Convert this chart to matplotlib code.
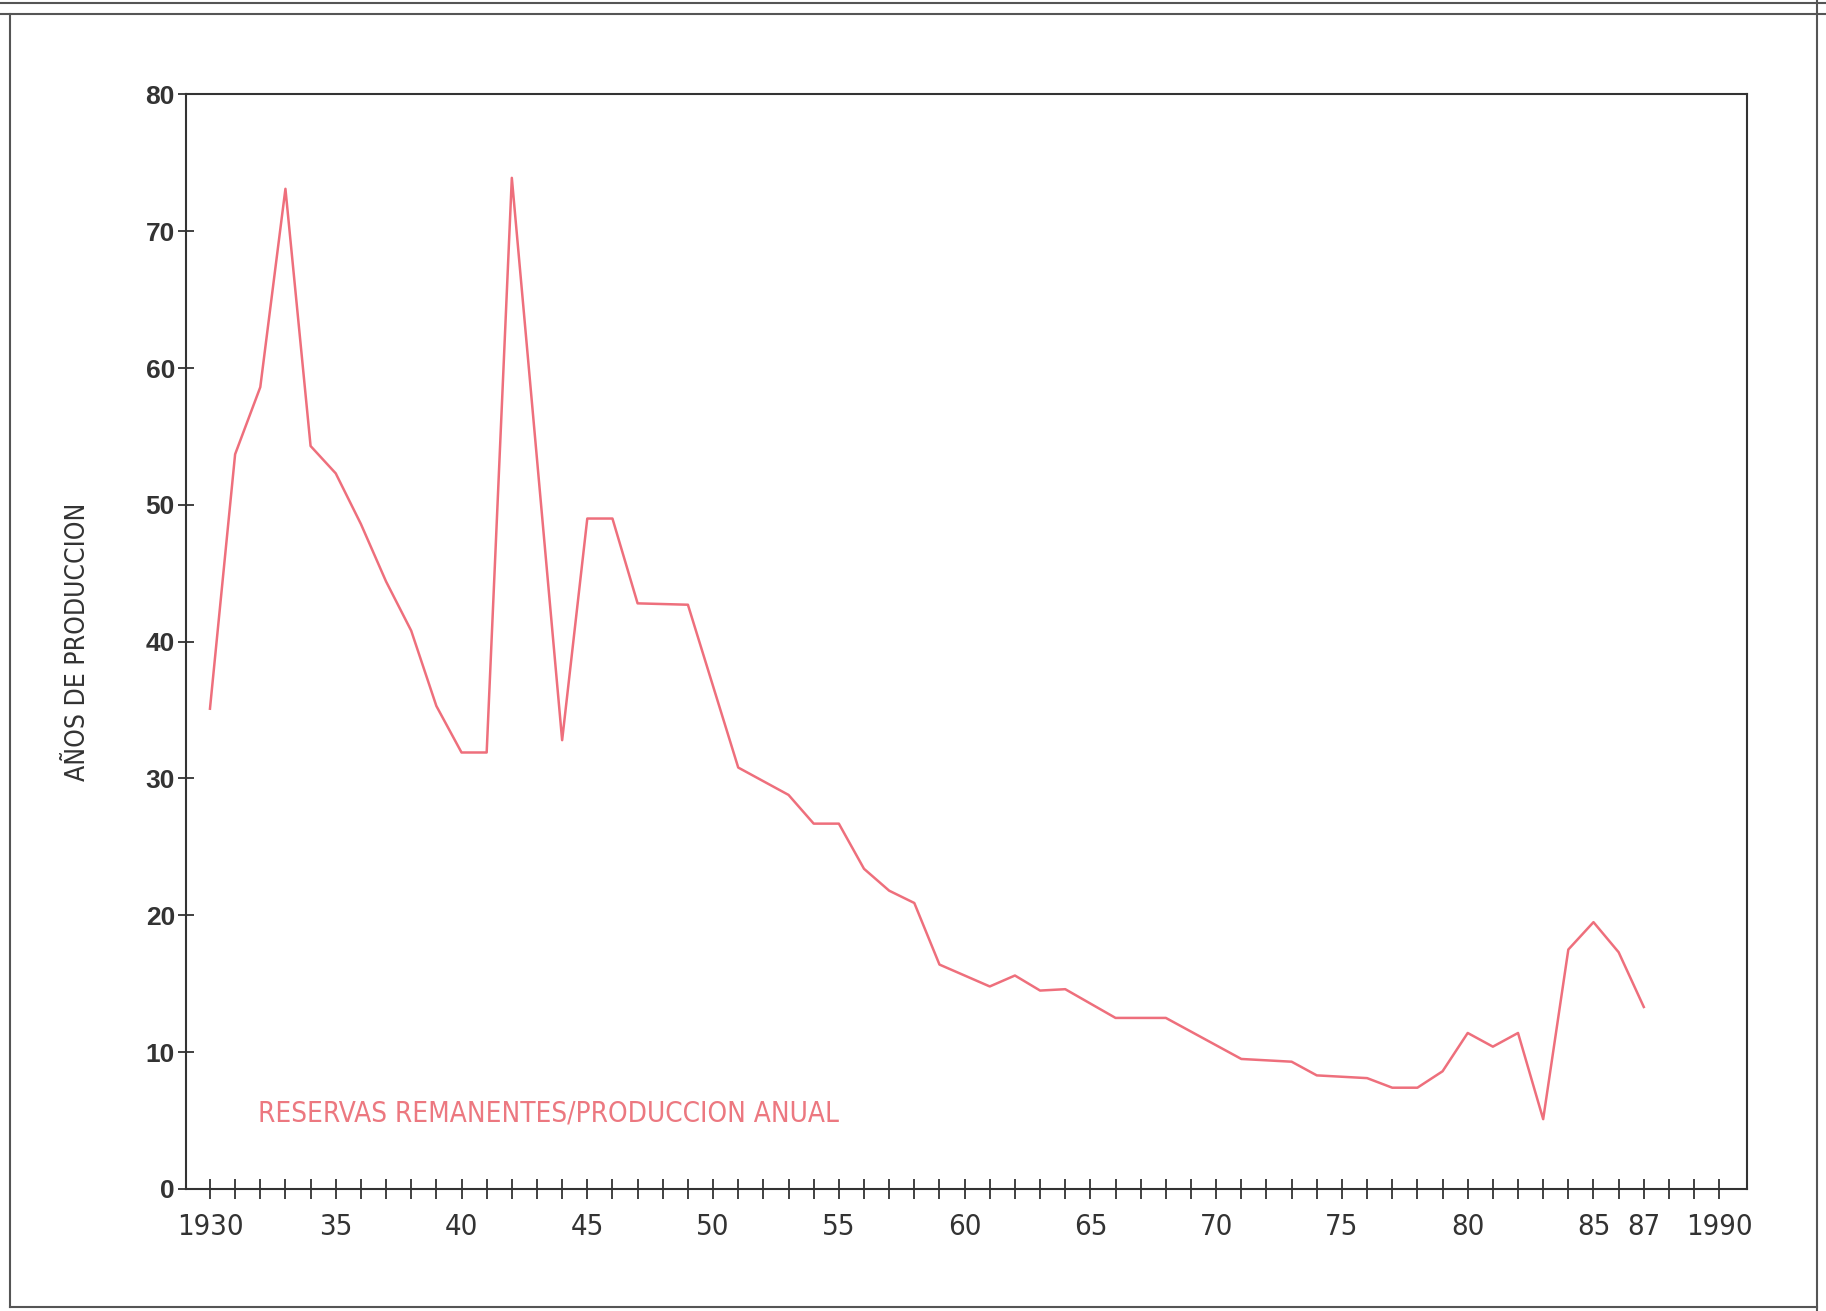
import matplotlib
matplotlib.use("Agg")
import matplotlib.pyplot as plt
from matplotlib.lines import Line2D

# relacion reservas / produccion anual (años)
years = [1930, 1931, 1932, 1933, 1934, 1935, 1936, 1937, 1938, 1939, 1940, 1941,
         1942, 1944, 1945, 1946, 1947, 1949, 1951, 1953, 1954, 1955, 1956, 1957,
         1958, 1959, 1961, 1962, 1963, 1964, 1966, 1968, 1971, 1973, 1974, 1976,
         1977, 1978, 1979, 1980, 1981, 1982, 1983, 1984, 1985, 1986, 1987]
values = [35.1, 53.7, 58.6, 73.1, 54.3, 52.3, 48.6, 44.4, 40.8, 35.3, 31.9, 31.9,
          73.9, 32.8, 49.0, 49.0, 42.8, 42.7, 30.8, 28.8, 26.7, 26.7, 23.4, 21.8,
          20.9, 16.4, 14.8, 15.6, 14.5, 14.6, 12.5, 12.5, 9.5, 9.3, 8.3, 8.1,
          7.4, 7.4, 8.6, 11.4, 10.4, 11.4, 5.1, 17.5, 19.5, 17.3, 13.3]

tick_years = list(range(1930, 1991))
labelled = {1930: "1930", 1935: "35", 1940: "40", 1945: "45", 1950: "50",
            1955: "55", 1960: "60", 1965: "65", 1970: "70", 1975: "75",
            1980: "80", 1985: "85", 1987: "87", 1990: "1990"}
y_ticks = [0, 10, 20, 30, 40, 50, 60, 70, 80]

line_color = "#ee6f7c"
text_color = "#ec7880"
axis_color = "#333333"
cond = dict(family="DejaVu Sans", stretch="condensed")

fig = plt.figure(figsize=(18.26, 13.11), dpi=100)
ax = fig.add_axes([0.1019, 0.0931, 0.8548, 0.8349])

ax.plot(years, values, color=line_color, lw=1.8)

ax.set_xlim(1929.05, 1991.1)
ax.set_ylim(0, 80)

ax.set_xticks(tick_years)
ax.set_xticklabels([labelled.get(y, "") for y in tick_years],
                   fontsize=21, color=axis_color, **cond)
ax.tick_params(axis="x", direction="inout", length=14, width=1.3,
               color=axis_color, pad=10)

ax.set_yticks(y_ticks)
ax.set_yticklabels([str(v) for v in y_ticks], family="Liberation Sans",
                   fontweight="bold", fontsize=19, color=axis_color)
ax.tick_params(axis="y", direction="inout", length=12, width=1.3,
               color=axis_color, pad=2)

for s in ax.spines.values():
    s.set_color(axis_color)
    s.set_linewidth(1.5)

ax.set_ylabel("AÑOS DE PRODUCCION", fontsize=19, color=axis_color, **cond)
ax.yaxis.set_label_coords(-0.061, 0.5)

ax.text(0.046, 0.069, "RESERVAS REMANENTES/PRODUCCION ANUAL", transform=ax.transAxes,
        fontsize=20, color=text_color, ha="left", va="center", **cond)

# marco de la pagina
frame = dict(color="#555555", lw=1.5, transform=fig.transFigure)
fig.add_artist(Line2D([0, 1], [0.9977, 0.9977], **frame))
fig.add_artist(Line2D([0, 1], [0.989, 0.989], **frame))
fig.add_artist(Line2D([0.0055, 0.0055], [0.003, 0.989], **frame))
fig.add_artist(Line2D([0.995, 0.995], [0, 1], **frame))
fig.add_artist(Line2D([0.0055, 0.995], [0.003, 0.003], **frame))

fig.savefig("out.png", dpi=100)
